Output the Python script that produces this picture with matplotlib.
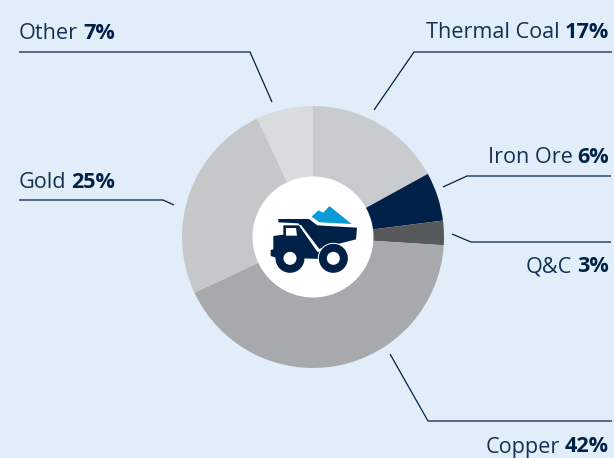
#!/usr/bin/env python3
"""Commodity share donut with leader lines and a truck icon in the hole."""

import matplotlib
matplotlib.use('Agg')
import matplotlib.pyplot as plt
from matplotlib.patches import Circle, Polygon

plt.rcParams['font.family'] = ['Open Sans', 'DejaVu Sans']

# clockwise from 12 o'clock
categories = ['Thermal Coal', 'Iron Ore', 'Q&C', 'Copper', 'Gold', 'Other']
shares = [17, 6, 3, 42, 25, 7]
colors = ['#C9CCCF', '#002147', '#58595B', '#A7A9AC', '#C6C7C9', '#DADBDD']

BG = '#E1EEF9'
NAVY = '#002147'
CX, CY, R, HOLE = 313, 237, 131, 60.5

# label anchor per category: x, text baseline y, align
label_pos = {
    'Thermal Coal': (609, 38, 'right'),
    'Iron Ore': (609, 163, 'right'),
    'Q&C': (609, 272, 'right'),
    'Copper': (609, 452.5, 'right'),
    'Other': (19, 39, 'left'),
    'Gold': (19, 188, 'left'),
}
leaders = [
    [(374, 110), (414, 52), (612, 52)],
    [(443, 187), (467, 176), (611, 176)],
    [(452, 234), (471, 242), (611, 242)],
    [(390, 354), (428, 421), (612, 421)],
    [(272, 102), (250, 52), (19, 52)],
    [(174, 205), (163, 200), (19, 200)],
]


def z(pts):
    return [(230 + x / 3, 170 + y / 3) for x, y in pts]


def draw_label(ax, name, value, x, y, ha):
    fig = ax.figure
    r = fig.canvas.get_renderer()
    kw = dict(fontsize=15.6, color=NAVY, va='baseline')
    if ha == 'right':
        t = ax.text(x, y, f'{value}%', ha='right', fontweight='bold', **kw)
        left = t.get_window_extent(r).x0
        ax.text(left - 5, y, name, ha='right', alpha=0.92, **kw)
    else:
        t = ax.text(x, y, name, ha='left', alpha=0.92, **kw)
        right = t.get_window_extent(r).x1
        ax.text(right + 5, y, f'{value}%', ha='left', fontweight='bold', **kw)


def draw_truck(ax):
    ax.add_patch(Polygon(z([(245, 140), (265, 121), (280, 128), (298, 108),
                            (365, 162), (268, 157)]),
                         fc='#0A9AD6', ec='none', zorder=5))
    # dump body
    ax.add_patch(Polygon(z([(145, 147), (237, 147), (262, 166), (381, 173),
                            (378, 208), (285, 232), (268, 244), (205, 160),
                            (145, 157)]),
                         fc=NAVY, ec='none', zorder=5))
    # cab and chassis
    ax.add_patch(Polygon(z([(130, 198), (160, 194), (160, 166), (207, 166),
                            (262, 245), (345, 235), (355, 270), (135, 262),
                            (122, 258), (122, 240), (130, 238)]),
                         fc=NAVY, ec='none', zorder=5))
    # thin white gap between body and cab
    ax.add_patch(Polygon(z([(207, 165), (213, 165), (268, 237), (284, 231),
                            (268, 246), (262, 243)]),
                         fc='white', ec='none', zorder=6))
    # window
    ax.add_patch(Polygon(z([(168, 174), (198, 174), (201, 197), (168, 197)]),
                         fc='white', ec='none', zorder=6))
    for wx in (180, 310):
        c = z([(wx, 265)])[0]
        if wx == 310:
            ax.add_patch(Circle(c, 15.5, fc='white', ec='none', zorder=6))
        ax.add_patch(Circle(c, 14.5, fc=NAVY, ec='none', zorder=7))
        ax.add_patch(Circle(c, 6.5, fc='white', ec='none', zorder=8))


fig = plt.figure(figsize=(6.14, 4.58), dpi=100, facecolor=BG)
ax = fig.add_axes([0, 0, 1, 1])

# y axis is flipped below, so startangle -90 is 12 o'clock and angles run clockwise
ax.pie(shares, colors=colors, startangle=-90, counterclock=True,
       center=(CX, CY), radius=R, wedgeprops=dict(linewidth=0))
ax.add_patch(Circle((CX, CY), HOLE, fc='white', ec='none', zorder=4))

ax.set_xlim(0, 614)
ax.set_ylim(458, 0)
ax.set_aspect('equal')
ax.axis('off')

fig.canvas.draw()
for name, value in zip(categories, shares):
    x, y, ha = label_pos[name]
    draw_label(ax, name, value, x, y, ha)

for pts in leaders:
    xs, ys = zip(*pts)
    ax.plot(xs, ys, color=NAVY, linewidth=0.9, solid_capstyle='butt', zorder=3)

draw_truck(ax)

fig.savefig('out.png', dpi=100, facecolor=BG)
